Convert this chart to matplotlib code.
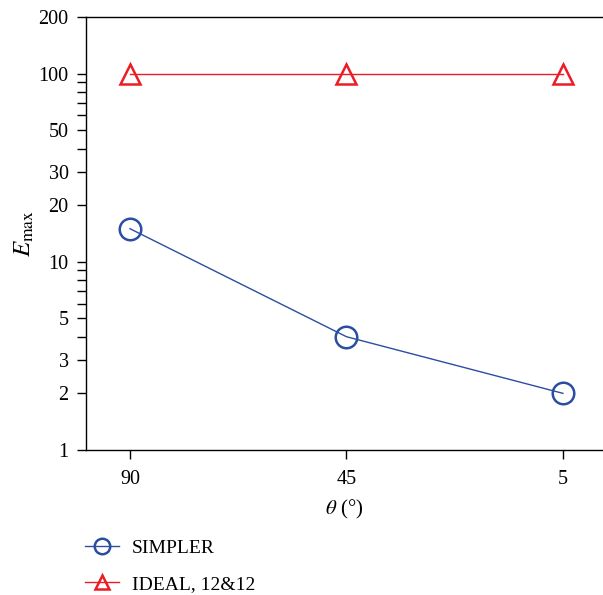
import numpy as np
import matplotlib
matplotlib.use("Agg")
import matplotlib.pyplot as plt
from matplotlib.ticker import FixedLocator, FixedFormatter, NullFormatter

plt.rcParams['font.family'] = ['Liberation Serif', 'DejaVu Serif']
plt.rcParams['mathtext.fontset'] = 'stix'

# data
theta_labels = ["90", "45", "5"]
simpler = [15, 4, 2]
ideal = [100, 100, 100]

blue = "#2b4ea2"
red = "#ec1c24"

fig = plt.figure(figsize=(6.03, 5.95), dpi=100)
ax = fig.add_axes([86 / 603, 145 / 595, 517 / 603, 433 / 595])

x = np.arange(len(theta_labels))
ax.plot(x, simpler, color=blue, lw=1, marker='o', ms=15.5, mfc='none',
        mec=blue, mew=1.8, label="SIMPLER")
ax.plot(x, ideal, color=red, lw=1, marker='^', ms=14.5, mfc='none',
        mec=red, mew=1.8, label="IDEAL, 12&12")

ax.set_yscale('log')
ax.set_ylim(1, 200)
ax.set_xlim(-0.203, 2.185)
ax.set_xticks(x)
ax.set_xticklabels(theta_labels)

major = [1, 2, 3, 5, 10, 20, 30, 50, 100, 200]
minor = [4, 6, 7, 8, 9, 40, 60, 70, 80, 90]
ax.yaxis.set_major_locator(FixedLocator(major))
ax.yaxis.set_major_formatter(FixedFormatter([str(v) for v in major]))
ax.yaxis.set_minor_locator(FixedLocator(minor))
ax.yaxis.set_minor_formatter(NullFormatter())

ax.tick_params(axis='both', which='both', direction='out', length=6.5,
               width=1, labelsize=14.5, pad=6)
ax.tick_params(axis='x', pad=8)
ax.spines['right'].set_visible(False)
for s in ['left', 'bottom', 'top']:
    ax.spines[s].set_linewidth(1)

ax.set_xlabel(r"$\theta$ (°)", fontsize=15, labelpad=6)
ax.set_ylabel(r"$E_{\mathrm{max}}$", fontsize=18, labelpad=2)

fig.legend(loc='upper left', bbox_to_anchor=(67 / 603, 1 - 522 / 595),
           frameon=False, fontsize=14, handlelength=1.75, handletextpad=0.7,
           labelspacing=0.95, markerscale=0.72)

fig.savefig("out.png", dpi=100)
